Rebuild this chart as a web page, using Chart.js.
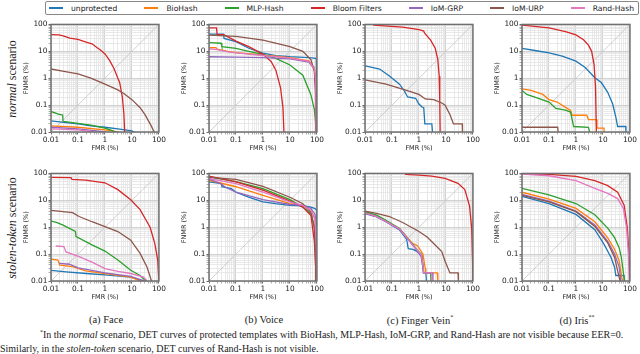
<!DOCTYPE html>
<html>
<head>
<meta charset="utf-8">
<script src="https://cdn.jsdelivr.net/npm/chart.js@4.4.0/dist/chart.umd.min.js"></script>
<style>
body { margin: 0; background: #fff; }
#fig { position: relative; width: 640px; height: 354px; overflow: hidden; font-family: "DejaVu Sans", sans-serif; }
canvas { position: absolute; }
#legend { position: absolute; left: 45px; top: 1px; width: 585px; height: 12px; border: 1px solid #888; border-radius: 2px;
  display: flex; justify-content: space-between; align-items: center; padding: 0 4px 0 3px; font-size: 7.6px; color: #222; }
#legend .item { display: flex; align-items: center; white-space: nowrap; }
#legend .swatch { width: 14px; height: 1.6px; margin-right: 8px; }
.rowlab { position: absolute; font-family: "Liberation Serif", serif; font-size: 12px; color: #222; white-space: nowrap;
  transform: translate(-50%, -50%) rotate(-90deg); }
.cap { position: absolute; font-family: "Liberation Serif", serif; font-size: 10.5px; color: #222; white-space: nowrap; transform: translateX(-50%); }
.note { position: absolute; font-family: "Liberation Serif", serif; font-size: 10px; color: #222; white-space: nowrap; }
sup { font-size: 6px; }
</style>
</head>
<body>
<div id="fig">
  <div id="legend"></div>
  <div class="rowlab" style="left:12px;top:79px;"><i>normal</i> scenario</div>
  <div class="rowlab" style="left:12px;top:228px;"><i>stolen-token</i> scenario</div>
  <div class="cap" style="left:106px;top:314px;">(a) Face</div>
  <div class="cap" style="left:264px;top:314px;">(b) Voice</div>
  <div class="cap" style="left:420px;top:314px;">(c) Finger Vein<sup>*</sup></div>
  <div class="cap" style="left:577px;top:314px;">(d) Iris<sup>**</sup></div>
  <div class="note" style="left:40px;top:329px;"><sup>*</sup>In the <i>normal</i> scenario, DET curves of protected templates with BioHash, MLP-Hash, IoM-GRP, and Rand-Hash are not visible because EER=0.</div>
  <div class="note" style="left:0px;top:343px;">Similarly, in the <i>stolen-token</i> scenario, DET curves of Rand-Hash is not visible.</div>
</div>
<script>
// series (legend order)
const seriesNames = ["unprotected", "BioHash", "MLP-Hash", "Bloom Filters", "IoM-GRP", "IoM-URP", "Rand-Hash"];
const seriesColors = ["#1f77b4", "#ff7f0e", "#2ca02c", "#d62728", "#9467bd", "#8c564b", "#e377c2"];
const tickValues = [0.01, 0.1, 1, 10, 100];
const tickLabels = ["0.01", "0.1", "1", "10", "100"];

// each curve: [FMR %, FNMR %]
// (a) Face - normal
const faceN_unprot = [[0.01,0.026],[0.03,0.023],[0.1,0.02],[0.3,0.017],[1,0.015],[3,0.013],[10,0.011],[14,0.009]];
const faceN_bio = [[0.01,0.017],[0.1,0.015],[1,0.012],[3,0.01],[5,0.009]];
const faceN_mlp = [[0.01,0.058],[0.02,0.045],[0.027,0.043],[0.028,0.025],[0.1,0.021],[0.3,0.018],[1,0.014],[2,0.011],[3,0.009]];
const faceN_bloom = [[0.01,42],[0.02,41],[0.03,37],[0.05,31],[0.1,28],[0.2,22],[0.33,19],[0.5,14],[0.7,11],[1,8],[1.5,4.5],[2.2,2.2],[3,1],[3.5,0.7],[4.4,0.2],[5,0.05],[5.4,0.009]];
const faceN_grp = [[0.01,0.015],[0.1,0.013],[0.5,0.011],[1,0.01],[2,0.009]];
const faceN_urp = [[0.01,2.2],[0.03,1.8],[0.1,1.45],[0.3,1.0],[1,0.6],[3,0.37],[5,0.27],[10,0.16],[20,0.08],[30,0.045],[50,0.018],[70,0.009]];
const faceN_rand = [[0.01,0.013],[0.1,0.012],[0.4,0.01],[0.6,0.009]];
// (b) Voice - normal
const voiceN_unprot = [[0.01,44],[0.035,44],[0.036,30],[0.1,23],[0.3,13],[1,8.5],[3,6.9],[10,6.3],[50,5.8],[90,5.5],[95,5.2],[97,3],[98,0.009]];
const voiceN_bio = [[0.01,13.7],[0.018,13.7],[0.02,12],[0.05,10],[0.1,9],[1,7.3],[10,5.8],[50,4.4],[80,2.5],[90,1],[93,0.1],[95,0.009]];
const voiceN_mlp = [[0.01,21],[0.028,20],[0.03,15],[0.1,13],[0.3,10],[1,7.7],[3,5.5],[10,3.1],[30,1.3],[60,0.24],[80,0.07],[90,0.02],[95,0.009]];
const voiceN_bloom = [[0.01,75],[0.019,75],[0.02,42],[0.035,42],[0.1,24],[0.3,15],[1,7.7],[2,4.2],[3,2],[4.5,0.43],[5.5,0.08],[6,0.009]];
const voiceN_grp = [[0.01,6.3],[0.1,6.1],[1,5.8],[10,5.2],[50,4.0],[80,2.2],[90,0.5],[94,0.009]];
const voiceN_urp = [[0.01,40],[0.1,36],[1,26],[10,15],[30,10],[60,4.8],[80,1.8],[88,0.3],[92,0.009]];
const voiceN_rand = [[0.01,12.5],[0.02,11.5],[0.05,9.5],[0.1,8.7],[1,7],[10,5.6],[50,4.2],[80,2.3],[90,0.8],[94,0.009]];
// (c) Finger Vein - normal
const veinN_unprot = [[0.01,2.9],[0.035,2.2],[0.08,1.2],[0.19,0.6],[0.28,0.35],[0.38,0.2],[0.75,0.18],[1,0.11],[1.3,0.085],[1.5,0.08],[1.65,0.02],[3,0.02],[3.2,0.009]];
const veinN_bloom = [[0.02,95],[0.25,80],[1,64],[1.5,57],[1.6,48],[2.7,26],[4,13],[5,4.9],[5.6,1.2],[5.9,0.13],[6.1,0.009]];
const veinN_urp = [[0.01,0.87],[0.06,0.6],[0.28,0.38],[1,0.25],[1.7,0.17],[3.5,0.16],[7,0.12],[9.3,0.1],[14,0.045],[19,0.02],[40,0.02],[41,0.009]];
// (d) Iris - normal
const irisN_unprot = [[0.01,13],[0.034,10.5],[0.1,8.7],[0.31,6.6],[1,4.3],[2.2,2.5],[5,1.05],[8.7,0.69],[15,0.3],[23,0.11],[30,0.036],[35,0.016],[70,0.016],[71,0.009]];
const irisN_bio = [[0.01,0.4],[0.022,0.35],[0.059,0.25],[0.1,0.16],[0.2,0.13],[0.36,0.09],[0.63,0.064],[0.72,0.042],[2.5,0.042],[2.9,0.029],[5.7,0.029],[6,0.014],[10.9,0.014],[11.2,0.009]];
const irisN_mlp = [[0.01,0.35],[0.015,0.25],[0.034,0.19],[0.1,0.13],[0.18,0.075],[0.41,0.065],[0.63,0.055],[0.82,0.016],[2.9,0.015],[3.3,0.009]];
const irisN_bloom = [[0.01,95],[0.1,75],[0.41,54],[1,41],[1.9,27],[2.9,17],[3.8,10],[4.7,3.2],[5.3,0.46],[5.7,0.009]];
const irisN_urp = [[0.01,0.015],[0.21,0.015],[0.22,0.009]];
// (a) Face - stolen-token
const faceS_unprot = [[0.01,0.025],[0.036,0.022],[0.2,0.019],[1,0.017],[9,0.014],[36,0.009]];
const faceS_bio = [[0.01,0.065],[0.018,0.06],[0.021,0.039],[0.063,0.034],[0.19,0.024],[1,0.019],[9,0.014],[27,0.009]];
const faceS_mlp = [[0.01,1.7],[0.016,1.5],[0.028,1.2],[0.08,0.7],[0.085,0.45],[0.33,0.22],[1,0.13],[3,0.06],[9,0.025],[20,0.016],[36,0.009]];
const faceS_bloom = [[0.01,72],[0.055,70],[0.06,60],[0.19,56],[1,45],[3,25],[9,10.5],[20,4.5],[47,1],[70,0.25],[90,0.06],[100,0.009]];
const faceS_grp = [[0.02,0.045],[0.048,0.042],[0.1,0.031],[0.33,0.025],[1,0.02],[9,0.015],[30,0.01],[35,0.009]];
const faceS_urp = [[0.01,4.2],[0.063,3.5],[0.11,2.5],[0.33,1.6],[1,1.06],[3,0.69],[9,0.33],[20,0.106],[36,0.033],[55,0.009]];
const faceS_rand = [[0.015,0.2],[0.03,0.19],[0.036,0.12],[0.11,0.08],[0.33,0.05],[1,0.029],[3,0.023],[9,0.019],[27,0.014],[40,0.009]];
// (b) Voice - stolen-token
const voiceS_unprot = [[0.01,49],[0.029,42],[0.03,32],[0.067,27],[0.1,20],[0.31,13],[1,8.7],[2.9,7.5],[10,6.5],[30,6.3],[60,5.6],[85,4.9],[97,4.3],[98,0.009]];
const voiceS_bio = [[0.01,56],[0.1,32],[1,15.4],[10,7.5],[30,6.5],[60,4.2],[85,2],[93,0.3],[96,0.009]];
const voiceS_mlp = [[0.01,75],[0.1,50],[1,27],[10,10.6],[30,5.6],[60,3.2],[80,1],[90,0.1],[93,0.009]];
const voiceS_bloom = [[0.01,79],[0.1,49],[1,24],[10,9.4],[30,5.6],[60,2.7],[80,0.3],[90,0.03],[94,0.009]];
const voiceS_grp = [[0.01,63],[0.029,40],[0.038,32],[0.1,20],[1,10.6],[2.9,8.7],[10,7],[30,6.5],[60,5],[85,3],[95,0.5],[97,0.009]];
const voiceS_urp = [[0.01,71],[0.1,60],[1,33],[10,13],[30,7.5],[60,3.6],[80,1],[88,0.1],[92,0.009]];
const voiceS_rand = [[0.01,65],[0.1,42],[1,20],[10,8.7],[30,6.5],[60,4.2],[85,2],[95,0.2],[98,0.009]];
// (c) Finger Vein - stolen-token
const veinS_unprot = [[0.01,3.2],[0.027,2.4],[0.06,1.6],[0.19,0.8],[0.35,0.35],[0.4,0.16],[0.6,0.15],[0.8,0.13],[1.1,0.1],[1.3,0.09],[1.45,0.02],[1.8,0.02],[1.9,0.009]];
const veinS_bio = [[0.01,3.5],[0.027,2.6],[0.06,1.7],[0.19,0.9],[0.38,0.4],[0.57,0.25],[0.9,0.2],[1.4,0.1],[1.7,0.03],[1.8,0.02],[4.8,0.02],[5,0.009]];
const veinS_mlp = [[0.01,3.8],[0.027,2.8],[0.06,1.8],[0.19,0.9],[0.38,0.38],[0.57,0.24],[0.87,0.14],[1.2,0.1],[1.4,0.04],[1.5,0.02],[2.7,0.02],[2.8,0.009]];
const veinS_bloom = [[0.3,92],[1,87],[3,80],[9.3,66],[28,43],[50,25],[75,6.1],[90,0.87],[97,0.05],[100,0.009]];
const veinS_grp = [[0.01,3.3],[0.027,2.5],[0.06,1.6],[0.19,0.85],[0.38,0.37],[0.57,0.22],[0.87,0.13],[1.2,0.08],[1.5,0.02],[3.2,0.02],[3.3,0.009]];
const veinS_urp = [[0.01,4.0],[0.027,3.3],[0.08,2.5],[0.25,1.5],[1,0.69],[2,0.43],[3.5,0.25],[7,0.125],[9.3,0.054],[14,0.02],[28,0.02],[29,0.009]];
const veinS_rand = [[0.01,3.4],[0.027,2.5],[0.06,1.65],[0.19,0.85],[0.38,0.37],[0.57,0.23],[0.87,0.14],[1.25,0.09],[1.5,0.02],[3,0.02],[3.1,0.009]];
// (d) Iris - stolen-token
const irisS_unprot = [[0.01,14],[0.1,7.6],[1,3.0],[5,0.81],[11,0.23],[20,0.075],[27,0.032],[30,0.016],[60,0.016],[63,0.009]];
const irisS_bio = [[0.01,20],[0.1,11],[1,5],[5,1.6],[15,0.4],[27,0.15],[40,0.056],[50,0.013],[58,0.009]];
const irisS_mlp = [[0.01,28],[0.1,16],[1,7.6],[5,2.9],[15,0.93],[27,0.41],[40,0.17],[48,0.075],[60,0.014],[65,0.009]];
const irisS_bloom = [[0.01,97],[0.1,92],[1,78],[5,54],[15,35],[35,20],[61,6.6],[80,0.93],[95,0.056],[100,0.009]];
const irisS_grp = [[0.01,16.6],[0.1,9.3],[1,4],[5,1.2],[15,0.3],[27,0.1],[40,0.033],[47,0.009]];
const irisS_urp = [[0.01,15.4],[0.1,8.7],[1,3.8],[5,1.07],[15,0.26],[27,0.075],[35,0.024],[44,0.009]];
const irisS_rand = [[0.01,94],[0.1,82],[1,54],[5,28],[15,18],[35,11.6],[57,5],[75,0.93],[88,0.1],[95,0.009]];

// panels: curves in legend order (null = not visible)
const panels = [
  { row: 0, col: 0, curves: [faceN_unprot, faceN_bio, faceN_mlp, faceN_bloom, faceN_grp, faceN_urp, faceN_rand] },
  { row: 0, col: 1, curves: [voiceN_unprot, voiceN_bio, voiceN_mlp, voiceN_bloom, voiceN_grp, voiceN_urp, voiceN_rand] },
  { row: 0, col: 2, curves: [veinN_unprot, null, null, veinN_bloom, null, veinN_urp, null] },
  { row: 0, col: 3, curves: [irisN_unprot, irisN_bio, irisN_mlp, irisN_bloom, null, irisN_urp, null] },
  { row: 1, col: 0, curves: [faceS_unprot, faceS_bio, faceS_mlp, faceS_bloom, faceS_grp, faceS_urp, faceS_rand] },
  { row: 1, col: 1, curves: [voiceS_unprot, voiceS_bio, voiceS_mlp, voiceS_bloom, voiceS_grp, voiceS_urp, voiceS_rand] },
  { row: 1, col: 2, curves: [veinS_unprot, veinS_bio, veinS_mlp, veinS_bloom, veinS_grp, veinS_urp, veinS_rand] },
  { row: 1, col: 3, curves: [irisS_unprot, irisS_bio, irisS_mlp, irisS_bloom, irisS_grp, irisS_urp, irisS_rand] }
];

// legend
document.getElementById('legend').innerHTML = seriesNames.map((n, i) =>
  `<div class="item"><div class="swatch" style="background:${seriesColors[i]}"></div>${n}</div>`).join('');

// layout of the canvases
const colLeft = [16, 174, 330, 487];
const rowTop = [19, 168];
const CW = 151, CH = 137;

// log ticks: 1..9 per decade
function logTicks() {
  const out = [];
  for (let e = -2; e < 2; e++) {
    for (let m = 1; m < 10; m++) out.push({ value: m * Math.pow(10, e), major: m === 1 });
  }
  out.push({ value: 100, major: true });
  return out;
}
function labelFor(v) {
  const i = tickValues.findIndex(t => Math.abs(Math.log10(t) - Math.log10(v)) < 1e-6);
  return i >= 0 ? tickLabels[i] : '';
}
const gridColor = c => (c.tick && labelFor(c.tick.value) !== '') ? '#c6c6c6' : '#e3e3e3';
const tickColor = c => (c.tick && labelFor(c.tick.value) !== '') ? '#444' : '#999';

const framePlugin = {
  id: 'frame',
  afterDraw(chart) {
    const a = chart.chartArea, ctx = chart.ctx;
    ctx.save();
    ctx.strokeStyle = '#707070';
    ctx.lineWidth = 1.5;
    ctx.strokeRect(a.left, a.top, a.right - a.left, a.bottom - a.top);
    ctx.restore();
  }
};

function axis(titleText, isY) {
  return {
    type: 'logarithmic',
    min: 0.01, max: 100,
    afterBuildTicks: s => { s.ticks = logTicks(); },
    afterFit: s => { if (isY) s.width = 35; else s.height = 24; },
    border: { display: false },
    grid: { color: gridColor, tickColor: tickColor, tickLength: 2.5, lineWidth: 0.8 },
    ticks: { autoSkip: false, maxRotation: 0, padding: 1, color: '#222',
      font: { family: 'DejaVu Sans', size: 7.4 },
      callback: v => labelFor(v) },
    title: { display: true, text: titleText, color: '#222',
      font: { family: 'DejaVu Sans', size: 6.5 },
      padding: isY ? { top: 6, bottom: 0 } : { top: 0, bottom: 4 } }
  };
}

const fig = document.getElementById('fig');
panels.forEach(p => {
  const cv = document.createElement('canvas');
  cv.width = CW; cv.height = CH;
  cv.style.left = colLeft[p.col] + 'px';
  cv.style.top = rowTop[p.row] + 'px';
  fig.appendChild(cv);

  const datasets = [];
  p.curves.forEach((pts, i) => {
    if (!pts) return;
    datasets.push({
      label: seriesNames[i],
      data: pts.map(d => ({ x: d[0], y: d[1] })),
      borderColor: seriesColors[i],
      borderWidth: 1.3,
      showLine: true,
      pointRadius: 0,
      order: 6 - i
    });
  });
  datasets.push({
    label: 'diag',
    data: [{ x: tickValues[0], y: tickValues[0] }, { x: tickValues[4], y: tickValues[4] }],
    borderColor: '#c4c4c4',
    borderWidth: 0.8,
    showLine: true,
    pointRadius: 0,
    order: 100
  });

  new Chart(cv.getContext('2d'), {
    type: 'scatter',
    data: { datasets },
    options: {
      responsive: false,
      animation: false,
      devicePixelRatio: 1,
      layout: { padding: { top: 5, right: 5, left: 0, bottom: 0 } },
      plugins: { legend: { display: false }, tooltip: { enabled: false } },
      scales: { x: axis('FMR (%)', false), y: axis('FNMR (%)', true) }
    },
    plugins: [framePlugin]
  });
});
</script>
</body>
</html>
